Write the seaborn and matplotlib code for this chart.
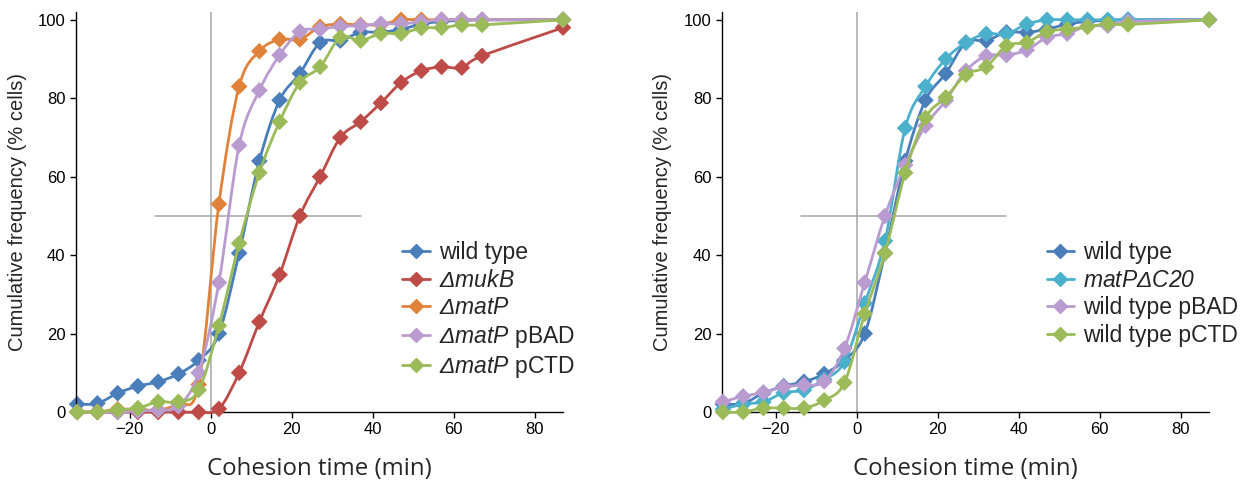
import numpy as np
import matplotlib
matplotlib.use("Agg")
import matplotlib.pyplot as plt
from matplotlib.path import Path
from matplotlib.patches import PathPatch
from matplotlib.lines import Line2D
import seaborn as sns

# cohesion time (min), shared by every series
times = [-33, -28, -23, -18, -13, -8, -3, 2, 7, 12, 17, 22, 27, 32, 37, 42,
         47, 52, 57, 62, 67, 87]

# left panel
wild_type = [2, 2.2, 4.8, 6.6, 7.7, 9.7, 13.2, 20, 40.5, 64, 79.5, 86.3, 94.2,
             94.7, 96.8, 96.8, 97.6, 98.9, 99.6, 99.8, 100, 100]
muk_b = [0, 0, 0, 0, 0, 0, 0, 0.8, 10, 23, 35, 50, 60, 70, 74, 78.8, 84, 87,
         88, 87.8, 90.8, 98]
mat_p = [0, 0, 0.7, 0.7, 0.5, 2.2, 7, 53, 83, 92, 95, 95, 98.2, 98.9, 98.7,
         98.8, 100, 100, 100, 100, 100, 100]
mat_p_pbad = [0, 0, 0, 0.3, 0.5, 1.5, 10, 33, 68, 82, 91, 97, 97.6, 98.3,
              98.5, 99, 99, 99.5, 100, 100, 100, 100]
mat_p_pctd = [0, 0, 0.5, 1, 2.6, 2.6, 5.6, 22, 43, 61, 74, 84, 88, 95.5, 94.7,
              96.5, 96.5, 97.9, 98, 98.7, 98.7, 100]

# right panel
mat_p_c20 = [0.7, 2, 2.6, 4.9, 5.6, 8.3, 12.8, 27.7, 43.6, 72.4, 83, 90, 94.2,
             96.4, 96.4, 98.9, 100, 100, 100, 100, 100, 100]
wt_pbad = [2.6, 4, 5, 6.4, 6.9, 7.8, 16.2, 33, 50, 63, 73, 79.4, 87, 90.8, 91,
           92.3, 95.5, 96.5, 98.4, 98.5, 99.5, 100]
wt_pctd = [0, 0, 1, 1, 1, 3, 7.5, 25, 40.5, 61, 75, 80.2, 86, 88, 93.4, 94.2,
           97, 97.6, 98.2, 99, 98.8, 100]

# \mathsf is mapped to an italic face so Delta and digits are slanted too
left_labels = ["wild type", r"$\mathsf{ΔmukB}$",
               r"$\mathsf{ΔmatP}$",
               r"$\mathsf{ΔmatP}$ pBAD",
               r"$\mathsf{ΔmatP}$ pCTD"]
right_labels = ["wild type", r"$\mathsf{matPΔC20}$",
                "wild type pBAD", "wild type pCTD"]

BLUE = "#4A7EBB"
RED = "#BE4B48"
ORANGE = "#E0823A"
PURPLE = "#B99BD0"
GREEN = "#9BBB59"
CYAN = "#4BB0CB"

sns.set_theme(style="ticks")
plt.rcParams["font.family"] = ["Liberation Sans", "DejaVu Sans"]
plt.rcParams["mathtext.fontset"] = "custom"
plt.rcParams["mathtext.rm"] = "Liberation Sans"
plt.rcParams["mathtext.it"] = "Liberation Sans:italic"
plt.rcParams["mathtext.sf"] = "Liberation Sans:italic"


def smooth_path(x, y):
    """Excel-like smoothed line: Catmull-Rom segments as cubic Beziers."""
    pts = np.column_stack([x, y]).astype(float)
    verts = [pts[0]]
    codes = [Path.MOVETO]
    n = len(pts)
    for i in range(n - 1):
        p0 = pts[i - 1] if i > 0 else pts[i]
        p1 = pts[i]
        p2 = pts[i + 1]
        p3 = pts[i + 2] if i + 2 < n else pts[i + 1]
        c1 = p1 + (p2 - p0) / 6.0
        c2 = p2 - (p3 - p1) / 6.0
        verts += [c1, c2, p2]
        codes += [Path.CURVE4] * 3
    return Path(verts, codes)


def draw_panel(ax, series, labels, colors, legend_xy):
    ax.plot([0, 0], [0, 102], color="#A6A6A6", lw=1.1, zorder=1)
    ax.plot([-13.75, 37], [50, 50], color="#A6A6A6", lw=1.1, zorder=1)
    for k, (vals, col) in enumerate(zip(series, colors)):
        patch = PathPatch(smooth_path(times, vals), facecolor="none",
                          edgecolor=col, lw=2.0, zorder=2 + k,
                          clip_on=False)
        ax.add_patch(patch)
        sns.scatterplot(x=times, y=vals, ax=ax, marker="D", s=72,
                        color=col, edgecolor="none", linewidth=0,
                        zorder=2 + k, clip_on=False)
    ax.set_xlim(-33.3, 87)
    ax.set_ylim(0, 102)
    ax.set_xticks([-20, 0, 20, 40, 60, 80])
    ax.set_yticks([0, 20, 40, 60, 80, 100])
    ax.tick_params(labelsize=12, length=4, width=1, colors="black")
    for s in ["left", "bottom"]:
        ax.spines[s].set_color("black")
        ax.spines[s].set_linewidth(1)
    sns.despine(ax=ax)
    ax.set_xlabel("Cohesion time (min)", fontsize=17.3, family="Open Sans",
                  labelpad=14)
    ax.set_ylabel("Cumulative frequency (% cells)", fontsize=14.5,
                  labelpad=8)
    handles = [Line2D([], [], color=c, lw=2.0, marker="D", markersize=7)
               for c in colors]
    ax.legend(handles, labels, loc="upper left", bbox_to_anchor=legend_xy,
              bbox_transform=ax.figure.transFigure, frameon=False,
              fontsize=16.5, handlelength=1.2, handletextpad=0.4,
              labelspacing=0.2, borderpad=0, borderaxespad=0)


fig = plt.figure(figsize=(12.49, 4.82), dpi=100)
ax1 = fig.add_axes([0.0608, 0.1452, 0.39, 0.83])
ax2 = fig.add_axes([0.5778, 0.1452, 0.3902, 0.83])

draw_panel(ax1, [wild_type, muk_b, mat_p, mat_p_pbad, mat_p_pctd],
           left_labels, [BLUE, RED, ORANGE, PURPLE, GREEN], (0.3219, 0.50))
draw_panel(ax2, [wild_type, mat_p_c20, wt_pbad, wt_pctd],
           right_labels, [BLUE, CYAN, PURPLE, GREEN], (0.838, 0.50))

fig.savefig("out.png", dpi=100)
